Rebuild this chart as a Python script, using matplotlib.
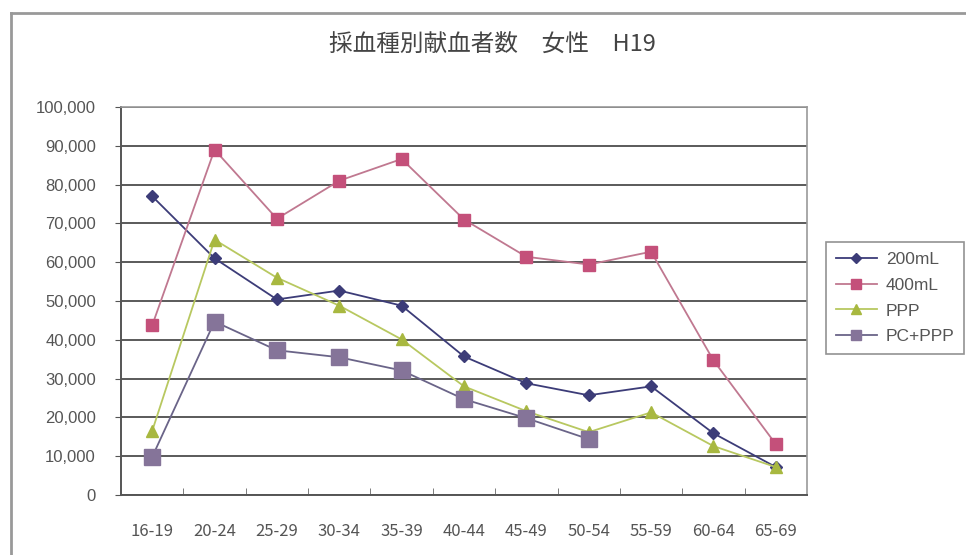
"""Blood donors by collection type, female, H19 (line chart)."""

import matplotlib
matplotlib.use("Agg")
import matplotlib.pyplot as plt
import numpy as np
from matplotlib.lines import Line2D
from matplotlib.ticker import FuncFormatter, FixedLocator

plt.rcParams["font.family"] = ["Noto Sans CJK JP", "DejaVu Sans"]

age_groups = ["16-19", "20-24", "25-29", "30-34", "35-39", "40-44",
              "45-49", "50-54", "55-59", "60-64", "65-69"]
donors_200ml = [77000, 61000, 50400, 52700, 48800, 35700, 28800, 25700, 28000, 15900, 7200]
donors_400ml = [43700, 89000, 71200, 81000, 86600, 71000, 61400, 59400, 62700, 34700, 13100]
donors_ppp = [16500, 65800, 56000, 48800, 40100, 28000, 21600, 16200, 21300, 12600, 7200]
donors_pc_ppp = [9800, 44700, 37300, 35500, 32100, 24700, 19800, 14400,
                 np.nan, np.nan, np.nan]

series = [
    ("200mL", donors_200ml, "#3c3c78", "#3c3c78", "D", 6),
    ("400mL", donors_400ml, "#c07890", "#c4507a", "s", 8),
    ("PPP", donors_ppp, "#b8c860", "#a8b840", "^", 8),
    ("PC+PPP", donors_pc_ppp, "#6a6488", "#857499", "s", 12),
]

fig = plt.figure(figsize=(9.66, 5.55), dpi=100)
ax = fig.add_axes([121 / 966, 60 / 555, 686 / 966, 388 / 555])

x = np.arange(len(age_groups))
handles = []
for label, values, lc, mc, marker, ms in series:
    ax.plot(x, values, color=lc, linewidth=1.3, marker=marker, markersize=ms,
            markerfacecolor=mc, markeredgecolor=mc)
    handles.append(Line2D([], [], color=lc, linewidth=1.3, marker=marker,
                          markersize=min(ms, 8) * 0.85, markerfacecolor=mc,
                          markeredgecolor=mc, label=label))

ax.set_xlim(-0.5, len(age_groups) - 0.5)
ax.set_ylim(0, 100000)
ax.set_yticks(np.arange(0, 100001, 10000))
ax.yaxis.set_major_formatter(FuncFormatter(lambda v, p: f"{int(v):,}"))
ax.yaxis.grid(True, color="#5a5a5a", linewidth=1.4)
ax.set_axisbelow(True)

ax.set_xticks(x)
ax.set_xticklabels(age_groups)
ax.tick_params(axis="x", length=0, pad=20, labelsize=12, labelcolor="#555555")
ax.xaxis.set_minor_locator(FixedLocator(np.arange(0.5, len(age_groups) - 1, 1)))
ax.tick_params(axis="x", which="minor", direction="in", length=5, color="#666666")
ax.tick_params(axis="y", direction="out", length=4, color="#555555", pad=14,
               labelsize=12, labelcolor="#555555")
for lab in ax.get_yticklabels():
    lab.set_family(["Liberation Sans", "DejaVu Sans"])

for side in ["left", "bottom"]:
    ax.spines[side].set_color("#555555")
    ax.spines[side].set_linewidth(1.4)
for side in ["top", "right"]:
    ax.spines[side].set_color("#999999")
    ax.spines[side].set_linewidth(1.2)

fig.text(492 / 966, 1 - 45 / 555, "採血種別献血者数　女性　H19", ha="center", va="center",
         fontsize=17, color="#444444")

# outer chart frame (left and top edges visible)
fig.add_artist(Line2D([11 / 966, 11 / 966], [0, 1 - 13 / 555], color="#999999",
                      linewidth=2, transform=fig.transFigure))
fig.add_artist(Line2D([11 / 966, 1], [1 - 13 / 555, 1 - 13 / 555], color="#999999",
                      linewidth=2, transform=fig.transFigure))

leg = fig.legend(handles=handles, loc="upper left",
                 bbox_to_anchor=(826 / 966, 1 - 242 / 555),
                 frameon=True, fancybox=False, edgecolor="#777777", fontsize=12.5,
                 handlelength=2.4, handletextpad=0.5, labelspacing=0.62,
                 borderpad=0.55, borderaxespad=0)
leg.get_frame().set_linewidth(1.2)
for t in leg.get_texts():
    t.set_color("#555555")
    t.set_family(["Liberation Sans", "DejaVu Sans"])

fig.savefig("out.png", dpi=100)
